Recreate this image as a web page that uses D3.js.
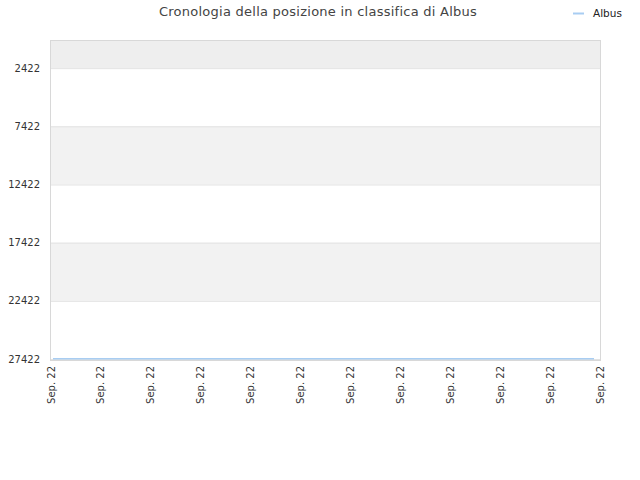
<!DOCTYPE html>
<html><head><meta charset="utf-8">
<script src="https://cdn.jsdelivr.net/npm/d3@7"></script>
<style>body{margin:0;background:#fff}svg{display:block}text{font-family:"DejaVu Sans",sans-serif}</style>
</head><body><svg id="c" width="640" height="480"></svg>
<script>
const title = "Cronologia della posizione in classifica di Albus";
const seriesName = "Albus";
const xTickLabels = ["Sep. 22","Sep. 22","Sep. 22","Sep. 22","Sep. 22","Sep. 22","Sep. 22","Sep. 22","Sep. 22","Sep. 22","Sep. 22","Sep. 22"];
const yTicks = [2422, 7422, 12422, 17422, 22422, 27422];
const pointPos = [0.04, 1, 2, 3, 4, 5, 6, 7, 8, 9, 10, 10.88];
const ranks = [27400, 27400, 27400, 27400, 27400, 27400, 27400, 27400, 27400, 27400, 27400, 27400];

const svg = d3.select("#c");
const L = 51, R = 600, T = 40, B = 359;
const x = d3.scaleLinear().domain([0, xTickLabels.length - 1]).range([L, R]);
const y = d3.scaleLinear().domain([1, 27422]).range([T, B]);

// bands
const bandEdges = [1].concat(yTicks);
for (let i = 0; i < bandEdges.length - 1; i++) {
  if (i % 2 === 0) {
    svg.append("rect").attr("x", L).attr("width", R - L)
      .attr("y", y(bandEdges[i])).attr("height", y(bandEdges[i+1]) - y(bandEdges[i]))
      .attr("fill", i === 0 ? "#eeeeee" : "#f2f2f2");
  }
}
// grid lines
svg.append("g").selectAll("line").data(yTicks).join("line")
  .attr("x1", L).attr("x2", R).attr("y1", d => y(d) + 0.5).attr("y2", d => y(d) + 0.5)
  .attr("stroke", "#e2e2e2");
// border
svg.append("rect").attr("x", L - 0.5).attr("y", T + 0.5).attr("width", R - L + 1).attr("height", B - T + 1)
  .attr("fill", "none").attr("stroke", "#d8d8d8");

// y axis labels
svg.append("g").selectAll("text").data(yTicks).join("text")
  .attr("x", 40).attr("y", d => y(d)).attr("dy", "0.35em")
  .attr("text-anchor", "end").attr("font-size", 10).attr("fill", "#333").text(d => d);

// x labels
svg.append("g").selectAll("text").data(xTickLabels).join("text")
  .attr("transform", (d, i) => `translate(${x(i) + 3.5},${B + 7}) rotate(-90)`)
  .attr("text-anchor", "end").attr("font-size", 10).attr("fill", "#333").text(d => d);

// line
const line = d3.line().x(d => x(d[0])).y(d => y(d[1]));
svg.append("path").datum(pointPos.map((p, i) => [p, ranks[i]]))
  .attr("d", line).attr("fill", "none").attr("stroke", "#a8cdf2").attr("stroke-width", 1.5);

// title
svg.append("text").attr("x", 318).attr("y", 16).attr("text-anchor", "middle")
  .attr("font-size", 13).attr("letter-spacing", 0.25).attr("fill", "#444").text(title);

// legend
svg.append("line").attr("x1", 573).attr("x2", 584).attr("y1", 13.5).attr("y2", 13.5)
  .attr("stroke", "#a8cdf2").attr("stroke-width", 2);
svg.append("text").attr("x", 593).attr("y", 13).attr("dy", "0.35em")
  .attr("font-size", 10.5).attr("fill", "#222").text(seriesName);
</script></body></html>
